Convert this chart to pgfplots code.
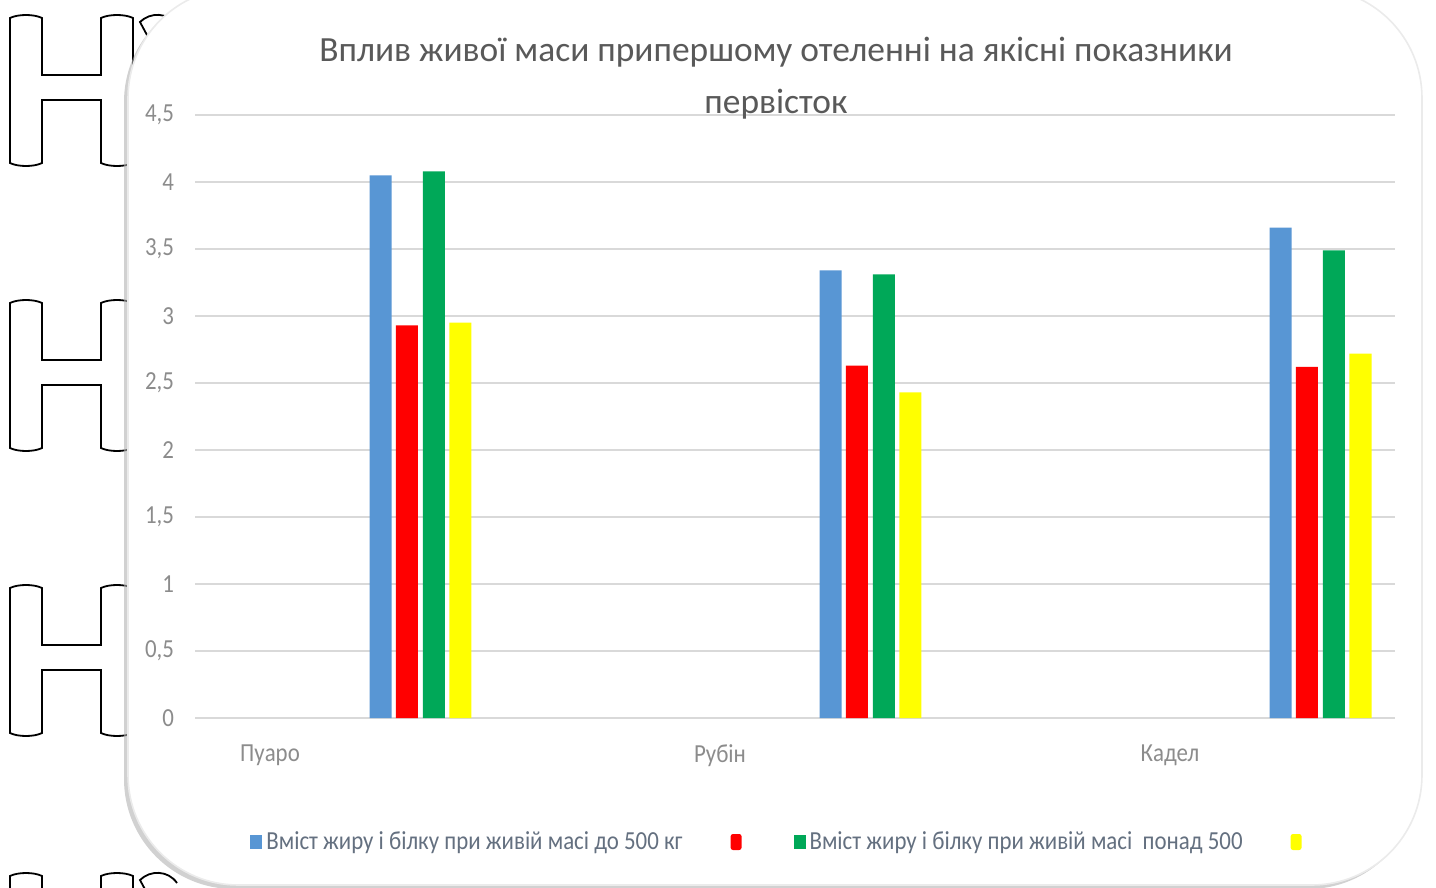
\documentclass[border=0pt]{standalone}
\usepackage{fontspec}
\setmainfont{Carlito}
\newfontfamily\condfont[FakeStretch=0.88]{Carlito}
\usepackage{pgfplots}
\pgfplotsset{compat=1.18}
\usepackage{pgfplotstable}
\usetikzlibrary{shadows}

\definecolor{barblue}{RGB}{88,150,212}
\definecolor{barred}{RGB}{255,0,0}
\definecolor{bargreen}{RGB}{0,168,88}
\definecolor{baryellow}{RGB}{255,255,0}
\definecolor{tickgrey}{RGB}{140,140,140}
\definecolor{legendgrey}{RGB}{100,112,128}
\definecolor{titlegrey}{RGB}{89,89,89}
\definecolor{gridgrey}{RGB}{217,217,217}

% fat and protein content of first-calf heifers
\pgfplotstableread{
idx blue  red   green yellow
0   4.05  2.93  4.08  2.95
1   3.34  2.63  3.31  2.43
2   3.66  2.62  3.49  2.72
}\datatable

\begin{document}
\begin{tikzpicture}[x=0.5pt,y=-0.5pt]
\useasboundingbox (0,0) rectangle (1436,888);

% outlined letters of the page behind the chart
\foreach \t in {15,300,585,873}{
  \draw[line width=0.9pt]
    (10,\t+148) -- (10,\t+3) .. controls (18,\t-1) and (34,\t-1) .. (42,\t+3)
    -- (42,\t+60) -- (101,\t+60) -- (101,\t+3)
    .. controls (109,\t-1) and (125,\t-1) .. (133,\t+3) -- (133,\t+148)
    .. controls (125,\t+152) and (109,\t+152) .. (101,\t+148)
    -- (101,\t+85) -- (42,\t+85) -- (42,\t+148)
    .. controls (34,\t+152) and (18,\t+152) .. (10,\t+148) -- cycle;
}
\foreach \t in {15,873}{
  \draw[line width=0.9pt] (155,\t+35) -- (140,\t+7) .. controls (150,\t-3) and (168,\t-3) .. (177,\t+10);
}

% chart area
\filldraw[fill=white, draw=black!8, line width=0.8pt, rounded corners=55pt,
      drop shadow={shadow xshift=-2pt, shadow yshift=-2pt, fill=black!30, opacity=0.6}]
  (128,-12) rectangle (1422,885);

\begin{axis}[
  at={(97.5pt,-359pt)}, anchor=south west,
  scale only axis, width=600pt, height=301.5pt,
  xmin=-0.16667, xmax=2.5, ymin=0, ymax=4.5,
  xtick={0,1,2}, xticklabels={Пуаро,Рубін,Кадел},
  ytick={0,0.5,...,4.5},
  ymajorgrids, grid style={gridgrey, line width=1pt},
  axis line style={draw=none}, major tick style={draw=none},
  /pgf/number format/.cd, use comma, fixed, assume math mode=true,
  /pgfplots/.cd,
  ticklabel style={font=\condfont\fontsize{13}{13}\selectfont, text=tickgrey},
  yticklabel style={xshift=-7pt},
  xticklabel style={yshift=-10pt},
  legend columns=4,
  legend style={at={(axis description cs:0.0458,0)}, anchor=west, yshift=-62pt,
    draw=none, fill=none, inner sep=0pt,
    font=\condfont\fontsize{13}{13}\selectfont, text=legendgrey,
    /tikz/every odd column/.append style={column sep=0pt},
    /tikz/every even column/.append style={column sep=22pt}},
  legend image code/.code={\fill[#1] (0pt,-3.5pt) rectangle (6pt,3.5pt);},
]
\addplot[ybar, bar width=0.0489, bar shift=0pt, fill=barblue, draw=none]
  table[x expr=\thisrow{idx}+0.2456, y=blue] {\datatable};
\addlegendentry{Вміст жиру і білку при живій масі до 500 кг}
\addplot[ybar, bar width=0.0489, bar shift=0pt, fill=barred, draw=none,
  legend image code/.code={\fill[barred, rounded corners=1.2pt] (0pt,-4pt) rectangle (5.5pt,4pt);}]
  table[x expr=\thisrow{idx}+0.3044, y=red] {\datatable};
\addlegendentry{}
\addplot[ybar, bar width=0.0489, bar shift=0pt, fill=bargreen, draw=none]
  table[x expr=\thisrow{idx}+0.3644, y=green] {\datatable};
\addlegendentry{Вміст жиру і білку при живій масі\ \ понад 500}
\addplot[ybar, bar width=0.0489, bar shift=0pt, fill=baryellow, draw=none,
  legend image code/.code={\fill[baryellow, rounded corners=1.2pt] (0pt,-4pt) rectangle (5.5pt,4pt);}]
  table[x expr=\thisrow{idx}+0.4233, y=yellow] {\datatable};
\addlegendentry{}
\end{axis}

% title
\node[font=\fontsize{17.7}{19}\selectfont, text=titlegrey] at (776,52)
  {Вплив живої маси припершому отеленні на якісні показники};
\node[font=\fontsize{17.7}{19}\selectfont, text=titlegrey] at (776,104) {первісток};
\end{tikzpicture}
\end{document}
